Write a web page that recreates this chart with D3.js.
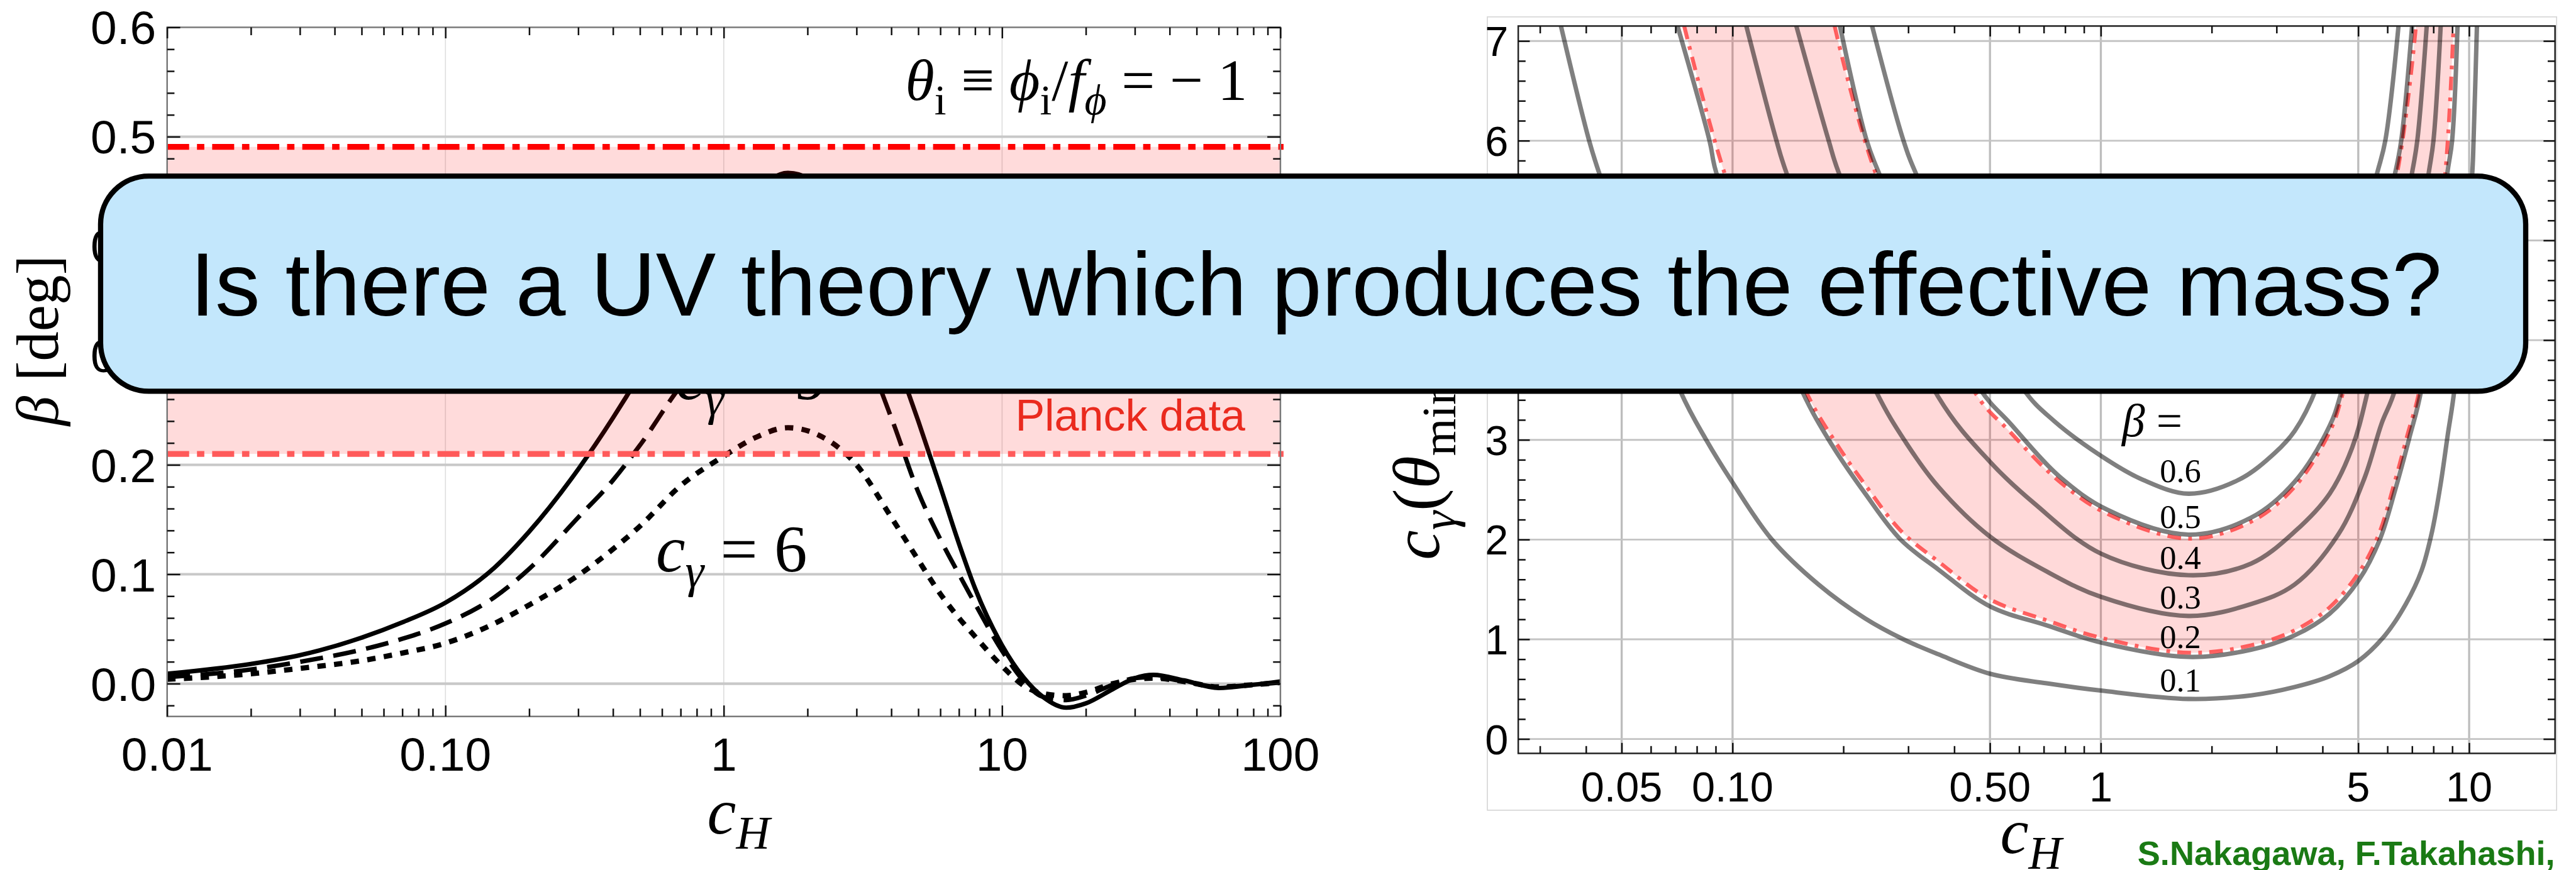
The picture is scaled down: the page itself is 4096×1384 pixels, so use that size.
<!DOCTYPE html>
<html>
<head>
<meta charset="utf-8">
<script src="https://cdn.jsdelivr.net/npm/d3@7"></script>
<style>
  html, body { margin: 0; padding: 0; background: #fff; overflow: hidden; }
</style>
</head>
<body>
<svg id="chart"></svg>
<script>
// ---- left panel: beta vs c_H for three c_gamma ----
const cH_left = [0.01, 0.02, 0.03, 0.05, 0.07, 0.1, 0.15, 0.2, 0.3, 0.4, 0.5, 0.7, 1, 1.3, 1.7, 2.2, 3, 4, 5, 6, 7, 8, 10, 12, 14, 17, 20, 25, 30, 35, 45, 60, 80, 100];
const beta_cg12 = [0.009, 0.018, 0.026, 0.042, 0.056, 0.074, 0.106, 0.139, 0.196, 0.243, 0.283, 0.350, 0.415, 0.450, 0.467, 0.455, 0.400, 0.310, 0.240, 0.180, 0.128, 0.087, 0.035, 0.005, -0.012, -0.022, -0.018, -0.005, 0.005, 0.008, 0.003, -0.004, -0.001, 0.002];
const beta_cg9 = [0.006, 0.013, 0.020, 0.031, 0.041, 0.055, 0.079, 0.105, 0.152, 0.186, 0.218, 0.272, 0.315, 0.340, 0.350, 0.342, 0.318, 0.243, 0.175, 0.132, 0.100, 0.073, 0.030, 0.002, -0.012, -0.015, -0.011, -0.001, 0.005, 0.006, 0.002, -0.003, -0.001, 0.001];
const beta_cg6 = [0.004, 0.009, 0.014, 0.021, 0.028, 0.037, 0.055, 0.072, 0.099, 0.123, 0.144, 0.181, 0.208, 0.225, 0.234, 0.227, 0.200, 0.152, 0.113, 0.082, 0.060, 0.043, 0.016, -0.002, -0.009, -0.011, -0.008, 0.000, 0.004, 0.005, 0.002, -0.003, -0.001, 0.001];
const planckBand = [0.210, 0.4907];
const yTicksLeft = [0, 0.1, 0.2, 0.3, 0.4, 0.5, 0.6];
const yTickLabelsLeft = ['0.0', '0.1', '0.2', '0.3', '0.4', '0.5', '0.6'];
const yMinorLeft = [-0.02, 0.02, 0.04, 0.06, 0.08, 0.12, 0.14, 0.16, 0.18, 0.22, 0.24, 0.26, 0.28, 0.32, 0.34, 0.36, 0.38, 0.42, 0.44, 0.46, 0.48, 0.52, 0.54, 0.56, 0.58];
const yGridLeft = [0, 0.1, 0.2, 0.3, 0.4, 0.5];
const xTicksLeft = [0.01, 0.1, 1, 10, 100];
const xTickLabelsLeft = ['0.01', '0.10', '1', '10', '100'];
const xGridLeft = [0.1, 1, 10];

// ---- right panel: contours of beta in (c_H, c_gamma) ----
const contourLevels = ['0.6', '0.5', '0.4', '0.3', '0.2', '0.1'];
const beta01 = [[0.0342,7.15],[0.0408,6.0],[0.0434,5.68],[0.0721,3.49],[0.0848,3.0],[0.0997,2.58],[0.1279,2.0],[0.1711,1.55],[0.229,1.21],[0.291,1.0],[0.362,0.85],[0.5,0.655],[0.713,0.558],[1.0,0.486],[1.73,0.402],[2.56,0.438],[3.36,0.522],[4.18,0.63],[5.02,0.787],[5.91,1.04],[6.73,1.353],[7.43,1.691],[7.93,2.08],[8.37,2.56],[8.74,3.04],[9.13,3.52],[10.2,5.68],[10.28,6.0],[10.5,7.15]];
const beta02 = [[0.0709,7.15],[0.0866,6.0],[0.0903,5.68],[0.1544,3.49],[0.1864,2.945],[0.229,2.463],[0.286,2.0],[0.362,1.70],[0.5,1.33],[0.713,1.14],[1.0,0.968],[1.73,0.823],[2.56,0.896],[3.36,1.04],[4.18,1.257],[5.02,1.595],[5.72,2.0],[6.31,2.51],[6.88,3.02],[7.43,3.52],[8.73,5.68],[8.99,6.0],[9.30,7.15]];
const beta03 = [[0.109,7.15],[0.1316,6.0],[0.140,5.68],[0.245,3.49],[0.296,2.97],[0.362,2.53],[0.5,2.03],[0.713,1.68],[1.0,1.426],[1.73,1.234],[2.56,1.354],[3.36,1.55],[4.41,2.05],[5.19,2.61],[5.78,3.16],[6.31,3.52],[7.77,5.68],[8.0,6.0],[8.37,7.15]];
const beta04 = [[0.149,7.15],[0.1824,6.0],[0.1942,5.68],[0.362,3.43],[0.5,2.78],[0.661,2.36],[1.0,1.86],[1.73,1.643],[2.56,1.76],[3.36,2.08],[4.18,2.46],[4.81,2.92],[5.33,3.52],[7.0,5.68],[7.23,6.0],[7.67,7.15]];
const beta05 = [[0.1957,7.15],[0.2314,6.0],[0.2495,5.68],[0.468,3.52],[0.569,3.16],[0.768,2.64],[1.04,2.30],[1.73,2.05],[2.56,2.22],[3.36,2.58],[4.18,3.14],[4.50,3.48],[6.30,5.68],[6.54,6.0],[7.0,7.15]];
const beta06 = [[0.2393,7.15],[0.2912,6.0],[0.314,5.68],[0.613,3.52],[0.746,3.19],[1.04,2.80],[1.30,2.60],[1.73,2.46],[2.37,2.60],[2.97,2.87],[3.36,3.09],[3.85,3.52],[5.63,5.68],[5.92,6.0],[6.43,7.15]];
const bandHigh = [[0.1893,7.15],[0.2443,5.68],[0.46,3.45],[0.56,3.10],[0.768,2.59],[1.04,2.26],[1.73,2.01],[2.56,2.18],[3.36,2.53],[4.18,3.08],[4.55,3.48],[6.38,5.68],[7.17,7.15]];
const bandLow = [[0.0739,7.15],[0.095,5.68],[0.158,3.49],[0.19,2.98],[0.229,2.55],[0.286,2.09],[0.362,1.78],[0.5,1.40],[0.713,1.19],[1.0,1.015],[1.73,0.865],[2.56,0.94],[3.36,1.09],[4.18,1.32],[5.02,1.67],[5.68,2.05],[6.25,2.55],[6.8,3.05],[7.35,3.52],[8.62,5.68],[9.07,7.15]];
const yTicksRight = [0, 1, 2, 3, 4, 5, 6, 7];
const xTicksRight = [0.05, 0.1, 0.5, 1, 5, 10];
const xTickLabelsRight = ['0.05', '0.10', '0.50', '1', '5', '10'];
const xMinorRight = [0.03, 0.04, 0.06, 0.07, 0.08, 0.09, 0.2, 0.3, 0.4, 0.6, 0.7, 0.8, 0.9, 2, 3, 4, 6, 7, 8, 9];

const serif = "'Liberation Serif','Times New Roman',serif";
const sans = "'Liberation Sans',Arial,sans-serif";

const svg = d3.select('#chart')
  .attr('width', 4096)
  .attr('height', 1384)
  .attr('viewBox', '0 0 4917 1661');

const defs = svg.append('defs');

// text with italic parts and subscripts
function mathText(g, x, y, fs, parts, anchor, family) {
  const t = g.append('text')
    .attr('x', x).attr('y', y)
    .attr('font-family', family || serif)
    .attr('font-size', fs)
    .attr('text-anchor', anchor || 'start');
  let shift = 0;
  parts.forEach(p => {
    const want = p.sub ? fs * 0.24 : 0;
    t.append('tspan')
      .attr('dy', want - shift)
      .attr('font-size', p.sub ? fs * 0.72 : fs)
      .attr('font-style', p.it ? 'italic' : 'normal')
      .text(p.t);
    shift = want;
  });
  return t;
}

function styleTicks(sel, color) {
  sel.select('.domain').remove();
  sel.selectAll('.tick line').attr('stroke', color).attr('stroke-width', 3);
  sel.selectAll('.tick text').remove();
}

// ================= LEFT PANEL =================
const L = {x0: 319, x1: 2444, y0: 52, y1: 1368};
const xL = d3.scaleLog().domain([0.01, 100]).range([L.x0, L.x1]);
const yL = d3.scaleLinear().domain([-0.03, 0.6]).range([L.y1, L.y0]);

defs.append('clipPath').attr('id', 'clipL')
  .append('rect').attr('x', L.x0).attr('y', L.y0).attr('width', L.x1 - L.x0).attr('height', L.y1 - L.y0);

const gL = svg.append('g');

gL.selectAll('.vgL').data(xGridLeft).enter().append('line')
  .attr('x1', d => xL(d)).attr('x2', d => xL(d))
  .attr('y1', L.y0).attr('y2', L.y1)
  .attr('stroke', '#dedede').attr('stroke-width', 2);

gL.selectAll('.hgL').data(yGridLeft).enter().append('line')
  .attr('x1', L.x0).attr('x2', L.x1)
  .attr('y1', d => yL(d)).attr('y2', d => yL(d))
  .attr('stroke', '#c8c8c8').attr('stroke-width', 5);

const lineL = d3.line()
  .x(d => xL(d[0])).y(d => yL(d[1]))
  .curve(d3.curveMonotoneX);

const leftSeries = [
  {vals: beta_cg12, dash: null, w: 8.5},
  {vals: beta_cg9, dash: '44,20', w: 8.5},
  {vals: beta_cg6, dash: '16,16', w: 10}
];
const curvesL = gL.append('g').attr('clip-path', 'url(#clipL)');
leftSeries.forEach(s => {
  curvesL.append('path')
    .datum(cH_left.map((c, i) => [c, s.vals[i]]))
    .attr('d', lineL)
    .attr('fill', 'none')
    .attr('stroke', '#000')
    .attr('stroke-width', s.w)
    .attr('stroke-dasharray', s.dash);
});

// Planck band over the curves
gL.append('rect')
  .attr('x', L.x0).attr('width', L.x1 - L.x0)
  .attr('y', yL(planckBand[1]))
  .attr('height', yL(planckBand[0]) - yL(planckBand[1]))
  .attr('fill', '#ff0000').attr('fill-opacity', 0.14);

gL.append('line')
  .attr('x1', L.x0).attr('x2', L.x1 + 6)
  .attr('y1', yL(planckBand[1])).attr('y2', yL(planckBand[1]))
  .attr('stroke', '#ff0000').attr('stroke-width', 11)
  .attr('stroke-dasharray', '42,15,14,15');
gL.append('line')
  .attr('x1', L.x0).attr('x2', L.x1 + 6)
  .attr('y1', yL(planckBand[0])).attr('y2', yL(planckBand[0]))
  .attr('stroke', '#ff5a5a').attr('stroke-width', 11)
  .attr('stroke-dasharray', '42,15,14,15');

gL.append('rect')
  .attr('x', L.x0).attr('y', L.y0)
  .attr('width', L.x1 - L.x0).attr('height', L.y1 - L.y0)
  .attr('fill', 'none').attr('stroke', '#7a7a7a').attr('stroke-width', 3);

// ticks
const minorLeftX = [];
[0.01, 0.1, 1, 10].forEach(d => { for (let k = 2; k <= 9; k++) minorLeftX.push(d * k); });

gL.append('g').attr('transform', `translate(0,${L.y1})`)
  .call(d3.axisBottom(xL).tickValues(xTicksLeft).tickSize(-21).tickFormat(''))
  .call(s => styleTicks(s, '#111'));
gL.append('g').attr('transform', `translate(0,${L.y1})`)
  .call(d3.axisBottom(xL).tickValues(minorLeftX).tickSize(-15).tickFormat(''))
  .call(s => styleTicks(s, '#111'));
gL.append('g').attr('transform', `translate(0,${L.y0})`)
  .call(d3.axisTop(xL).tickValues(xTicksLeft).tickSize(-21).tickFormat(''))
  .call(s => styleTicks(s, '#111'));
gL.append('g').attr('transform', `translate(0,${L.y0})`)
  .call(d3.axisTop(xL).tickValues(minorLeftX).tickSize(-15).tickFormat(''))
  .call(s => styleTicks(s, '#111'));
gL.append('g').attr('transform', `translate(${L.x0},0)`)
  .call(d3.axisLeft(yL).tickValues(yTicksLeft).tickSize(-25).tickFormat(''))
  .call(s => styleTicks(s, '#111'));
gL.append('g').attr('transform', `translate(${L.x0},0)`)
  .call(d3.axisLeft(yL).tickValues(yMinorLeft).tickSize(-14).tickFormat(''))
  .call(s => styleTicks(s, '#111'));
gL.append('g').attr('transform', `translate(${L.x1},0)`)
  .call(d3.axisRight(yL).tickValues(yTicksLeft).tickSize(-25).tickFormat(''))
  .call(s => styleTicks(s, '#111'));
gL.append('g').attr('transform', `translate(${L.x1},0)`)
  .call(d3.axisRight(yL).tickValues(yMinorLeft).tickSize(-14).tickFormat(''))
  .call(s => styleTicks(s, '#111'));

// tick labels
gL.selectAll('.ylabL').data(yTicksLeft).enter().append('text')
  .attr('x', 298).attr('y', d => yL(d))
  .attr('dy', '0.36em')
  .attr('text-anchor', 'end')
  .attr('font-family', sans).attr('font-size', 90)
  .text((d, i) => yTickLabelsLeft[i]);
gL.selectAll('.xlabL').data(xTicksLeft).enter().append('text')
  .attr('x', d => xL(d)).attr('y', 1472)
  .attr('text-anchor', 'middle')
  .attr('font-family', sans).attr('font-size', 90)
  .text((d, i) => xTickLabelsLeft[i]);

// axis titles and annotations
mathText(gL, 1350, 1591, 124, [{t: 'c', it: true}, {t: 'H', it: true, sub: true}]);
mathText(gL, 110, 650, 114, [{t: 'β', it: true}, {t: ' [deg]'}], 'middle')
  .attr('transform', 'rotate(-90,110,650)');
mathText(gL, 2381, 191, 113, [
  {t: 'θ', it: true}, {t: 'i', sub: true}, {t: ' ≡ '},
  {t: 'ϕ', it: true}, {t: 'i', sub: true}, {t: '/'},
  {t: 'f', it: true}, {t: 'ϕ', it: true, sub: true}, {t: ' = − 1'}
], 'end');
mathText(gL, 1252, 1091, 126, [{t: 'c', it: true}, {t: 'γ', it: true, sub: true}, {t: ' = 6'}]);
mathText(gL, 1290, 762, 126, [{t: 'c', it: true}, {t: 'γ', it: true, sub: true}, {t: ' = 9'}]);
gL.append('text')
  .attr('x', 1938).attr('y', 822)
  .attr('font-family', sans).attr('font-size', 84)
  .attr('fill', '#ea2a1e')
  .text('Planck data');

// ================= RIGHT PANEL =================
const R = {x0: 2898, x1: 4877, y0: 49.5, y1: 1438.5};
const xR = d3.scaleLog().domain([0.02619, 17.11]).range([R.x0, R.x1]);
const yR = d3.scaleLinear().domain([-0.144, 7.15]).range([R.y1, R.y0]);

defs.append('clipPath').attr('id', 'clipR')
  .append('rect').attr('x', R.x0).attr('y', R.y0).attr('width', R.x1 - R.x0).attr('height', R.y1 - R.y0);

const gR = svg.append('g');

gR.append('rect')
  .attr('x', 2839).attr('y', 32).attr('width', 4880 - 2839).attr('height', 1547 - 32)
  .attr('fill', 'none').attr('stroke', '#d6d6d6').attr('stroke-width', 2);

gR.selectAll('.vgR').data(xTicksRight).enter().append('line')
  .attr('x1', d => xR(d)).attr('x2', d => xR(d))
  .attr('y1', R.y0).attr('y2', R.y1)
  .attr('stroke', '#bdbdbd').attr('stroke-width', 4);
gR.selectAll('.hgR').data(yTicksRight).enter().append('line')
  .attr('x1', R.x0).attr('x2', R.x1)
  .attr('y1', d => yR(d)).attr('y2', d => yR(d))
  .attr('stroke', '#c4c4c4').attr('stroke-width', 3.5);

const lineR = d3.line()
  .x(d => xR(d[0])).y(d => yR(d[1]))
  .curve(d3.curveCatmullRom.alpha(0.5));

const plotR = gR.append('g').attr('clip-path', 'url(#clipR)');

// band between beta = 0.21 and 0.49
const bandPath = lineR(bandLow) + 'L' + lineR(bandHigh.slice().reverse()).slice(1) + 'Z';
plotR.append('path')
  .attr('d', bandPath)
  .attr('fill', '#ff0000').attr('fill-opacity', 0.15).attr('stroke', 'none');

[bandLow, bandHigh].forEach(b => {
  plotR.append('path')
    .datum(b).attr('d', lineR)
    .attr('fill', 'none')
    .attr('stroke', '#ff3c3c').attr('stroke-opacity', 0.8)
    .attr('stroke-width', 7.5)
    .attr('stroke-dasharray', '26,14,7,14');
});

[beta06, beta05, beta04, beta03, beta02, beta01].forEach(c => {
  plotR.append('path')
    .datum(c).attr('d', lineR)
    .attr('fill', 'none')
    .attr('stroke', '#000').attr('stroke-opacity', 0.5)
    .attr('stroke-width', 8.5);
});

// contour labels
const contourLabelY = [921, 1008, 1086, 1162, 1238, 1320];
gR.selectAll('.clab').data(contourLevels).enter().append('text')
  .attr('x', 4162).attr('y', (d, i) => contourLabelY[i])
  .attr('text-anchor', 'middle')
  .attr('font-family', serif).attr('font-size', 63)
  .text(d => d);
mathText(gR, 4108, 833, 88, [{t: 'β', it: true}, {t: ' ='}], 'middle');

gR.append('rect')
  .attr('x', R.x0).attr('y', R.y0)
  .attr('width', R.x1 - R.x0).attr('height', R.y1 - R.y0)
  .attr('fill', 'none').attr('stroke', '#222').attr('stroke-width', 3);

const yMinorRight = [];
for (let v = 0.2; v < 7.15; v += 0.2) {
  const r = Math.round(v * 10) / 10;
  if (Math.abs(r - Math.round(r)) > 0.01) yMinorRight.push(r);
}

gR.append('g').attr('transform', `translate(0,${R.y1})`)
  .call(d3.axisBottom(xR).tickValues(xTicksRight).tickSize(-20).tickFormat(''))
  .call(s => styleTicks(s, '#111'));
gR.append('g').attr('transform', `translate(0,${R.y1})`)
  .call(d3.axisBottom(xR).tickValues(xMinorRight).tickSize(-14).tickFormat(''))
  .call(s => styleTicks(s, '#111'));
gR.append('g').attr('transform', `translate(0,${R.y0})`)
  .call(d3.axisTop(xR).tickValues(xTicksRight).tickSize(-20).tickFormat(''))
  .call(s => styleTicks(s, '#111'));
gR.append('g').attr('transform', `translate(0,${R.y0})`)
  .call(d3.axisTop(xR).tickValues(xMinorRight).tickSize(-14).tickFormat(''))
  .call(s => styleTicks(s, '#111'));
gR.append('g').attr('transform', `translate(${R.x0},0)`)
  .call(d3.axisLeft(yR).tickValues(yTicksRight).tickSize(-22).tickFormat(''))
  .call(s => styleTicks(s, '#111'));
gR.append('g').attr('transform', `translate(${R.x0},0)`)
  .call(d3.axisLeft(yR).tickValues(yMinorRight).tickSize(-14).tickFormat(''))
  .call(s => styleTicks(s, '#111'));
gR.append('g').attr('transform', `translate(${R.x1},0)`)
  .call(d3.axisRight(yR).tickValues(yTicksRight).tickSize(-22).tickFormat(''))
  .call(s => styleTicks(s, '#111'));
gR.append('g').attr('transform', `translate(${R.x1},0)`)
  .call(d3.axisRight(yR).tickValues(yMinorRight).tickSize(-14).tickFormat(''))
  .call(s => styleTicks(s, '#111'));

gR.selectAll('.ylabR').data(yTicksRight).enter().append('text')
  .attr('x', 2879).attr('y', d => yR(d))
  .attr('dy', '0.36em')
  .attr('text-anchor', 'end')
  .attr('font-family', sans).attr('font-size', 80)
  .text(d => d);
gR.selectAll('.xlabR').data(xTicksRight).enter().append('text')
  .attr('x', d => xR(d)).attr('y', 1530)
  .attr('text-anchor', 'middle')
  .attr('font-family', sans).attr('font-size', 80)
  .text((d, i) => xTickLabelsRight[i]);

mathText(gR, 3818, 1629, 122, [{t: 'c', it: true}, {t: 'H', it: true, sub: true}]);
mathText(gR, 2747, 1069, 128, [
  {t: 'c', it: true}, {t: 'γ', it: true, sub: true}, {t: '('},
  {t: 'θ', it: true}, {t: 'min', sub: true}, {t: ')'}
]).attr('transform', 'rotate(-90,2747,1069)');

// credit line
svg.append('text')
  .attr('x', 4080).attr('y', 1652)
  .attr('font-family', sans).attr('font-size', 65).attr('font-weight', 'bold')
  .attr('fill', '#1a7a14')
  .text('S.Nakagawa, F.Takahashi,');

// ================= CALLOUT =================
svg.append('rect')
  .attr('x', 192).attr('y', 336)
  .attr('width', 4821 - 192).attr('height', 747 - 336)
  .attr('rx', 92).attr('ry', 92)
  .attr('fill', '#c3e7fc').attr('stroke', '#000').attr('stroke-width', 10);
svg.append('text')
  .attr('x', 2512).attr('y', 602)
  .attr('text-anchor', 'middle')
  .attr('font-family', sans).attr('font-size', 172)
  .text('Is there a UV theory which produces the effective mass?');
</script>
</body>
</html>
